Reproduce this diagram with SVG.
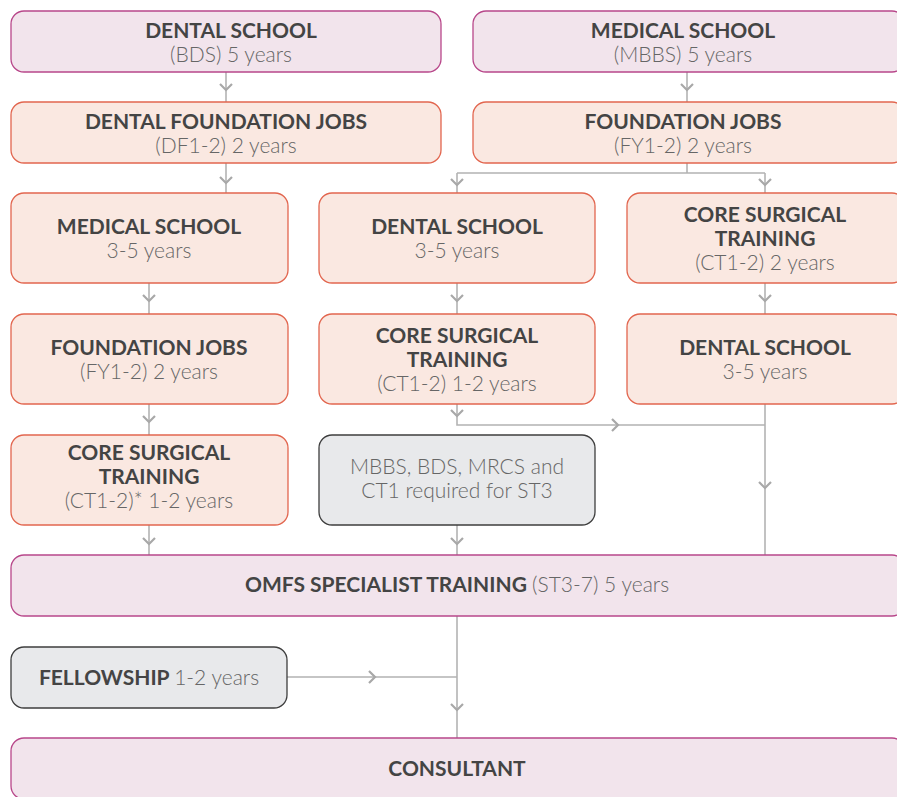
<svg xmlns="http://www.w3.org/2000/svg" width="897" height="797" viewBox="0 0 897 797">
<style>
.p{fill:#f2e4ec;stroke:#b8478a;stroke-width:1.3}
.o{fill:#fae8e1;stroke:#e2664f;stroke-width:1.3}
.g{fill:#e8e9eb;stroke:#3e3e3e;stroke-width:1.3}
.t{font-family:Lato,"Open Sans",sans-serif;font-size:21px;font-weight:700;fill:#444;text-anchor:middle}
.s{font-family:Lato,"Open Sans",sans-serif;font-size:21px;font-weight:300;fill:#666;text-anchor:middle}
.c{fill:none;stroke:#b3b3b3;stroke-width:1.6}
.a{fill:none;stroke:#a8a8a8;stroke-width:2.2}
</style>
<g id="connectors">
<path class="c" d="M226 72V102M687 72V102M226 163V193M687 163V173M457 173H765M457 173V193M765 173V193M149 283V314M457 283V314M765 283V314M149 404V435M457 404V425H765M765 404V555M149 525V555M457 525V555M457 616V738M287 677H457"/>
<path class="a" d="M220 84l6 6 6-6M681 84l6 6 6-6M220 177l6 6 6-6M451 179l6 6 6-6M759 179l6 6 6-6M143 295l6 6 6-6M451 295l6 6 6-6M759 295l6 6 6-6M143 416l6 6 6-6M451 410l6 6 6-6M759 482l6 6 6-6M143 538l6 6 6-6M451 538l6 6 6-6M451 704l6 6 6-6M612 419l6 6-6 6M369 671l6 6-6 6"/>
</g>
<g id="n1"><rect class="p" x="11" y="11" width="430" height="61" rx="13"/><text class="t" x="231" y="38">DENTAL SCHOOL</text><text class="s" x="231" y="62">(BDS) 5 years</text></g>
<g id="n2"><rect class="p" x="473" y="11" width="432" height="61" rx="13"/><text class="t" x="683" y="38">MEDICAL SCHOOL</text><text class="s" x="683" y="62">(MBBS) 5 years</text></g>
<g id="n3"><rect class="o" x="11" y="102" width="430" height="61" rx="13"/><text class="t" x="226" y="129">DENTAL FOUNDATION JOBS</text><text class="s" x="226" y="153">(DF1-2) 2 years</text></g>
<g id="n4"><rect class="o" x="473" y="102" width="432" height="61" rx="13"/><text class="t" x="683" y="129">FOUNDATION JOBS</text><text class="s" x="683" y="153">(FY1-2) 2 years</text></g>
<g id="n5"><rect class="o" x="11" y="193" width="277" height="90" rx="13"/><text class="t" x="149" y="234">MEDICAL SCHOOL</text><text class="s" x="149" y="258">3-5 years</text></g>
<g id="n6"><rect class="o" x="319" y="193" width="276" height="90" rx="13"/><text class="t" x="457" y="234">DENTAL SCHOOL</text><text class="s" x="457" y="258">3-5 years</text></g>
<g id="n7"><rect class="o" x="627" y="193" width="278" height="90" rx="13"/><text class="t" x="765" y="222">CORE SURGICAL</text><text class="t" x="765" y="246">TRAINING</text><text class="s" x="765" y="270">(CT1-2) 2 years</text></g>
<g id="n8"><rect class="o" x="11" y="314" width="277" height="90" rx="13"/><text class="t" x="149" y="355">FOUNDATION JOBS</text><text class="s" x="149" y="379">(FY1-2) 2 years</text></g>
<g id="n9"><rect class="o" x="319" y="314" width="276" height="90" rx="13"/><text class="t" x="457" y="343">CORE SURGICAL</text><text class="t" x="457" y="367">TRAINING</text><text class="s" x="457" y="391">(CT1-2) 1-2 years</text></g>
<g id="n10"><rect class="o" x="627" y="314" width="278" height="90" rx="13"/><text class="t" x="765" y="355">DENTAL SCHOOL</text><text class="s" x="765" y="379">3-5 years</text></g>
<g id="n11"><rect class="o" x="11" y="435" width="277" height="90" rx="13"/><text class="t" x="149" y="460">CORE SURGICAL</text><text class="t" x="149" y="484">TRAINING</text><text class="s" x="149" y="508">(CT1-2)* 1-2 years</text></g>
<g id="n12"><rect class="g" x="319" y="435" width="276" height="90" rx="13"/><text class="s" x="457" y="474">MBBS, BDS, MRCS and</text><text class="s" x="457" y="498">CT1 required for ST3</text></g>
<g id="n13"><rect class="p" x="11" y="555" width="894" height="61" rx="13"/><text class="t" x="457" y="592">OMFS SPECIALIST TRAINING <tspan style="font-weight:300;fill:#666">(ST3-7) 5 years</tspan></text></g>
<g id="n14"><rect class="g" x="11" y="647" width="276" height="61" rx="13"/><text class="t" x="149" y="685">FELLOWSHIP <tspan style="font-weight:300;fill:#666">1-2 years</tspan></text></g>
<g id="n15"><rect class="p" x="11" y="738" width="894" height="61" rx="13"/><text class="t" x="457" y="776">CONSULTANT</text></g>
</svg>
